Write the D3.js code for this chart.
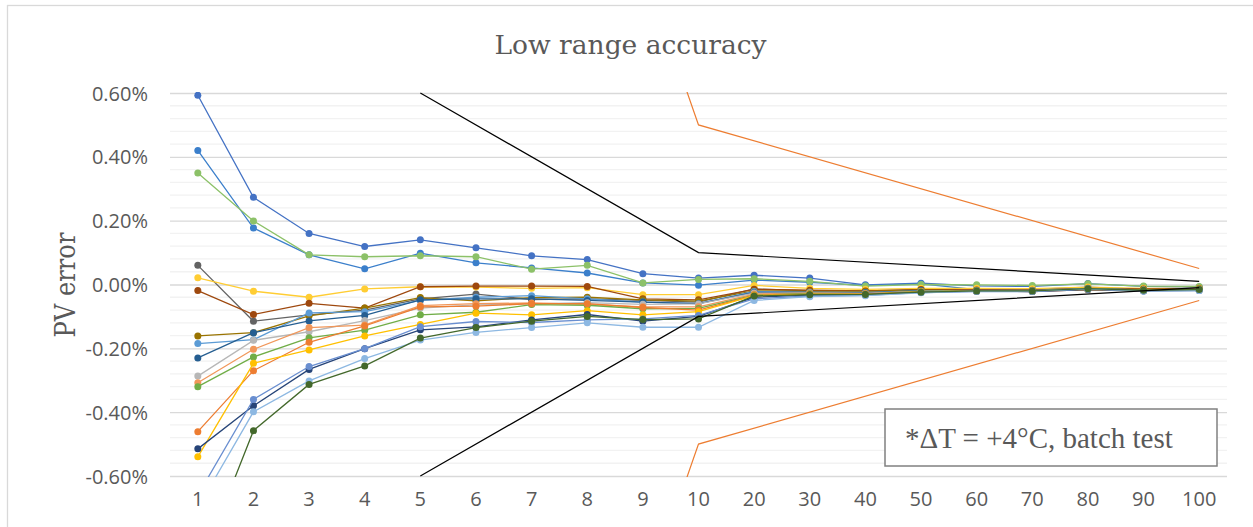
<!DOCTYPE html>
<html>
<head>
<meta charset="utf-8">
<script src="https://cdn.jsdelivr.net/npm/d3@7"></script>
<style>
    body { margin: 0; background: #ffffff; }
    svg { display: block; }
</style>
</head>
<body>
<svg id="chart" width="1253" height="527"></svg>
<script>
// categories on the x axis
const categories = ['1', '2', '3', '4', '5', '6', '7', '8', '9', '10',
    '20', '30', '40', '50', '60', '70', '80', '90', '100'];

// y axis ticks (in %)
const yTicks = [-0.6, -0.4, -0.2, 0, 0.2, 0.4, 0.6];

// PV error per unit, in %
const unit01 = [0.593, 0.273, 0.160, 0.119, 0.140, 0.115, 0.090, 0.078, 0.034, 0.020, 0.029, 0.020, -0.001, 0.004, -0.004, -0.006, 0.003, -0.006, -0.008];
const unit02 = [0.420, 0.177, 0.093, 0.049, 0.098, 0.068, 0.052, 0.036, 0.005, -0.002, 0.014, 0.007, -0.003, 0.002, -0.016, -0.015, -0.008, -0.015, -0.018];
const unit03 = [0.349, 0.199, 0.093, 0.087, 0.090, 0.087, 0.048, 0.060, 0.005, 0.016, 0.018, 0.010, -0.005, 0.000, -0.001, -0.003, 0.002, -0.005, -0.006];
const unit04 = [0.060, -0.115, -0.095, -0.080, -0.045, -0.030, -0.047, -0.045, -0.050, -0.055, -0.014, -0.020, -0.020, -0.015, -0.018, -0.018, -0.012, -0.015, -0.012];
const unit05 = [0.021, -0.021, -0.040, -0.014, -0.007, -0.008, -0.012, -0.010, -0.032, -0.032, -0.003, -0.012, -0.015, -0.012, -0.012, -0.013, -0.008, -0.012, -0.012];
const unit06 = [-0.019, -0.094, -0.059, -0.074, -0.007, -0.005, -0.005, -0.006, -0.045, -0.048, -0.015, -0.018, -0.020, -0.016, -0.017, -0.018, -0.012, -0.014, -0.013];
const unit07 = [-0.161, -0.151, -0.098, -0.074, -0.041, -0.051, -0.041, -0.040, -0.048, -0.052, -0.020, -0.022, -0.022, -0.018, -0.020, -0.020, -0.015, -0.016, -0.014];
const unit08 = [-0.185, -0.173, -0.089, -0.085, -0.050, -0.040, -0.035, -0.045, -0.055, -0.060, -0.022, -0.024, -0.025, -0.020, -0.019, -0.019, -0.013, -0.017, -0.015];
const unit09 = [-0.230, -0.151, -0.114, -0.097, -0.048, -0.045, -0.045, -0.050, -0.055, -0.060, -0.025, -0.025, -0.026, -0.019, -0.020, -0.021, -0.014, -0.018, -0.016];
const unit10 = [-0.287, -0.175, -0.148, -0.113, -0.074, -0.064, -0.061, -0.057, -0.062, -0.061, -0.027, -0.026, -0.028, -0.021, -0.020, -0.021, -0.014, -0.017, -0.015];
const unit11 = [-0.308, -0.203, -0.135, -0.127, -0.066, -0.060, -0.058, -0.062, -0.070, -0.070, -0.030, -0.027, -0.029, -0.022, -0.021, -0.020, -0.015, -0.018, -0.016];
const unit12 = [-0.320, -0.227, -0.167, -0.143, -0.095, -0.087, -0.063, -0.065, -0.076, -0.075, -0.033, -0.028, -0.030, -0.022, -0.020, -0.021, -0.013, -0.018, -0.016];
const unit13 = [-0.461, -0.270, -0.181, -0.130, -0.070, -0.068, -0.060, -0.060, -0.072, -0.080, -0.034, -0.030, -0.030, -0.023, -0.021, -0.022, -0.016, -0.019, -0.017];
const unit14 = [-0.540, -0.247, -0.205, -0.161, -0.125, -0.090, -0.095, -0.082, -0.095, -0.085, -0.035, -0.031, -0.031, -0.023, -0.021, -0.021, -0.015, -0.019, -0.017];
const unit15 = [-0.515, -0.380, -0.266, -0.201, -0.142, -0.133, -0.111, -0.094, -0.115, -0.100, -0.040, -0.033, -0.032, -0.024, -0.021, -0.022, -0.016, -0.020, -0.018];
const unit16 = [-0.660, -0.360, -0.257, -0.201, -0.132, -0.116, -0.119, -0.111, -0.108, -0.097, -0.045, -0.036, -0.034, -0.025, -0.022, -0.022, -0.014, -0.020, -0.019];
const unit17 = [-0.700, -0.399, -0.302, -0.232, -0.174, -0.150, -0.135, -0.120, -0.134, -0.134, -0.050, -0.038, -0.035, -0.026, -0.021, -0.021, -0.014, -0.020, -0.019];
const unit18 = [-0.900, -0.458, -0.313, -0.255, -0.168, -0.135, -0.115, -0.100, -0.110, -0.108, -0.036, -0.032, -0.031, -0.024, -0.020, -0.020, -0.013, -0.018, -0.016];

const units = [unit01, unit02, unit03, unit04, unit05, unit06, unit07, unit08, unit09,
    unit10, unit11, unit12, unit13, unit14, unit15, unit16, unit17, unit18];
const unitColors = ['#4472C4', '#3B7FCB', '#8CC168', '#636363', '#FFCD33', '#9E480E',
    '#997300', '#5B9BD5', '#255E91', '#B7B7B7', '#F1975A', '#70AD47',
    '#ED7D31', '#FFC000', '#264478', '#698ED0', '#8DB8E2', '#43682B'];

// spec limits (null = no point at that category)
const limitInnerUp = [null, null, null, null, 0.6, null, null, null, null, 0.1, null, null, null, null, null, null, null, null, 0.01];
const limitInnerLo = [null, null, null, null, -0.6, null, null, null, null, -0.1, null, null, null, null, null, null, null, null, -0.01];
const limitOuterUp = [null, null, null, null, null, null, null, null, 1.0, 0.5, null, null, null, null, null, null, null, null, 0.05];
const limitOuterLo = [null, null, null, null, null, null, null, null, -1.0, -0.5, null, null, null, null, null, null, null, null, -0.05];

const svg = d3.select('#chart');
const plot = {left: 170, right: 1227, top: 93, bottom: 476};

// chart frame
svg.append('rect')
    .attr('x', 7.5).attr('y', 5.5)
    .attr('width', 1270).attr('height', 600)
    .attr('fill', '#ffffff')
    .attr('stroke', '#d9d9d9')
    .attr('stroke-width', 1.3);

const x = d3.scaleBand().domain(categories).range([plot.left, plot.right]).padding(0);
const y = d3.scaleLinear().domain([-0.6, 0.6]).range([plot.bottom, plot.top]);
const cx = c => x(c) + x.bandwidth() / 2;

// minor gridlines every 0.04 %
const minor = d3.range(-15, 16).map(i => i * 0.04).filter(v => Math.abs(Math.round(v * 100) % 20) !== 0);
svg.append('g').selectAll('line').data(minor).join('line')
    .attr('x1', plot.left).attr('x2', plot.right)
    .attr('y1', d => y(d)).attr('y2', d => y(d))
    .attr('stroke', '#f2f2f2').attr('stroke-width', 1.3);

// major gridlines with the y axis labels (plain hyphen like the spreadsheet)
const yAxis = d3.axisLeft(y).tickValues(yTicks).tickSize(-(plot.right - plot.left))
    .tickFormat(d => (d < 0 ? '-' : '') + Math.abs(d).toFixed(2) + '%');
const gy = svg.append('g').attr('transform', `translate(${plot.left},0)`).call(yAxis);
gy.select('.domain').remove();
gy.selectAll('.tick line').attr('stroke', '#d9d9d9').attr('stroke-width', 1.3);
gy.selectAll('.tick text')
    .attr('x', -22).attr('dy', '0.35em')
    .style('font-family', '"Open Sans", sans-serif')
    .style('font-size', '20px')
    .attr('fill', '#595959');

// x axis labels
const xAxis = d3.axisBottom(x).tickSize(0);
const gx = svg.append('g').attr('transform', `translate(0,${plot.bottom})`).call(xAxis);
gx.select('.domain').remove();
gx.selectAll('.tick text')
    .attr('y', 30).attr('dy', 0)
    .style('font-family', '"Open Sans", sans-serif')
    .style('font-size', '20px')
    .attr('fill', '#595959');

// clip to plot area
svg.append('clipPath').attr('id', 'plotClip')
    .append('rect')
    .attr('x', plot.left).attr('y', plot.top - 1)
    .attr('width', plot.right - plot.left).attr('height', plot.bottom - plot.top + 2);

const g = svg.append('g').attr('clip-path', 'url(#plotClip)');

const line = d3.line()
    .defined(d => d.v !== null)
    .x(d => cx(d.c))
    .y(d => y(d.v));

units.forEach((vals, i) => {
    const pts = vals.map((v, j) => ({c: categories[j], v: v}));
    g.append('path')
        .datum(pts)
        .attr('d', line)
        .attr('fill', 'none')
        .attr('stroke', unitColors[i])
        .attr('stroke-width', 1.3);
    g.append('g').selectAll('circle').data(pts).join('circle')
        .attr('cx', d => cx(d.c))
        .attr('cy', d => y(d.v))
        .attr('r', 3.5)
        .attr('fill', unitColors[i]);
});

// limit lines, gaps bridged like in the spreadsheet
function drawLimit(vals, color) {
    const pts = vals.map((v, j) => ({c: categories[j], v: v})).filter(d => d.v !== null);
    g.append('path')
        .datum(pts)
        .attr('d', line)
        .attr('fill', 'none')
        .attr('stroke', color)
        .attr('stroke-width', 1.2);
}
drawLimit(limitInnerUp, '#000000');
drawLimit(limitInnerLo, '#000000');
drawLimit(limitOuterUp, '#ED7D31');
drawLimit(limitOuterLo, '#ED7D31');

// title
svg.append('text')
    .attr('x', 630.5).attr('y', 54)
    .attr('text-anchor', 'middle')
    .style('font-family', '"DejaVu Serif", serif')
    .style('font-size', '26.5px')
    .attr('fill', '#595959')
    .text('Low range accuracy');

// y axis title
svg.append('text')
    .attr('transform', 'translate(75,285) rotate(-90)')
    .attr('text-anchor', 'middle')
    .attr('textLength', 105)
    .attr('lengthAdjust', 'spacingAndGlyphs')
    .style('font-family', '"DejaVu Serif", serif')
    .style('font-size', '27px')
    .attr('fill', '#595959')
    .text('PV error');

// note box
svg.append('rect')
    .attr('x', 885).attr('y', 409)
    .attr('width', 332).attr('height', 57)
    .attr('fill', '#ffffff')
    .attr('stroke', '#808080')
    .attr('stroke-width', 1.5);
svg.append('text')
    .attr('x', 905).attr('y', 448)
    .style('font-family', '"Liberation Serif", serif')
    .style('font-size', '29px')
    .attr('fill', '#595959')
    .text('*ΔT = +4°C, batch test');
</script>
</body>
</html>
